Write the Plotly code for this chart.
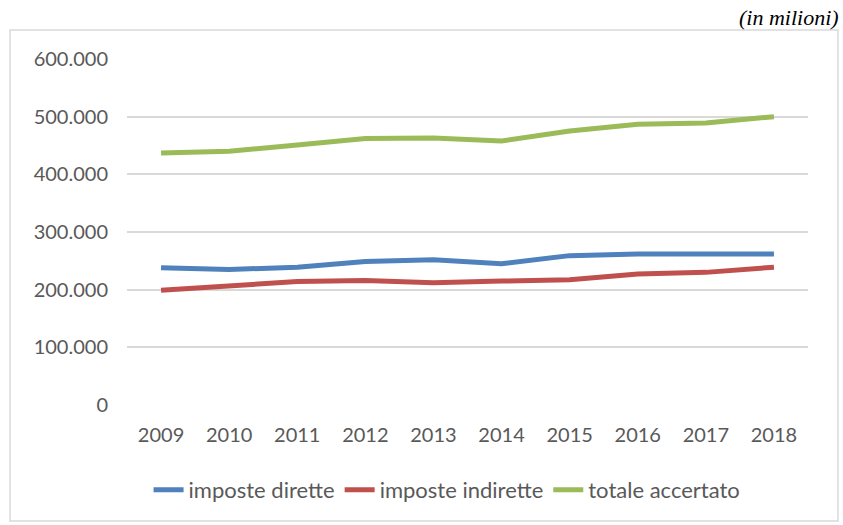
import plotly.graph_objects as go

years = ["2009", "2010", "2011", "2012", "2013", "2014", "2015", "2016", "2017", "2018"]
imposte_dirette = [238000, 235000, 239000, 249000, 252000, 245000, 259000, 262000, 262000, 262000]
imposte_indirette = [199000, 206000, 214000, 216000, 212000, 215000, 217000, 227000, 230000, 239000]
totale_accertato = [437000, 440000, 451000, 462000, 463000, 458000, 475000, 487000, 489000, 500000]
y_ticks = [0, 100000, 200000, 300000, 400000, 500000, 600000]

series = [
    ("imposte dirette", imposte_dirette, "#4F81BD"),
    ("imposte indirette", imposte_indirette, "#C0504D"),
    ("totale accertato", totale_accertato, "#9BBB59"),
]

fig = go.Figure()
for name, vals, color in series:
    fig.add_trace(go.Scatter(x=years, y=vals, name=name, mode="lines",
                             line=dict(color=color, width=5)))

W, H = 843, 525
L, R, T, B = 127, 35, 59, 120
pw, ph = W - L - R, H - T - B

def px_x(p):
    return (p - L) / pw

def px_y(p):
    return (H - B - p) / ph

fig.update_layout(
    width=W, height=H,
    margin=dict(l=L, r=R, t=T, b=B),
    paper_bgcolor="white", plot_bgcolor="white",
    separators=",.",
    font=dict(family="Lato", size=20, color="#595959"),
    showlegend=True,
    legend=dict(orientation="h", x=0.47, xanchor="center", y=px_y(490), yanchor="middle",
                font=dict(size=22, color="#595959"), tracegroupgap=0),
    xaxis=dict(type="category", showgrid=False, zeroline=False, showline=False,
               ticks="", tickfont=dict(size=20, color="#595959"), range=[-0.5, 9.5],
               ticklabelstandoff=16),
    yaxis=dict(range=[0, 600000], tickvals=y_ticks, tickformat=",d",
               showgrid=True, gridcolor="#D9D9D9", gridwidth=1.5, zeroline=False,
               showline=False, ticks="", ticklabelstandoff=18,
               tickfont=dict(size=20, color="#595959")),
    shapes=[dict(type="rect", xref="paper", yref="paper",
                 x0=px_x(10), x1=px_x(838), y0=px_y(521), y1=px_y(30),
                 line=dict(color="#D9D9D9", width=1.5), fillcolor="rgba(0,0,0,0)", layer="below")],
    annotations=[dict(text="<i>(in milioni)</i>", xref="paper", yref="paper",
                      x=px_x(841), y=px_y(17), xanchor="right", yanchor="middle",
                      showarrow=False,
                      font=dict(family="Liberation Serif", size=22, color="black"),
                      )],
)

fig.write_html("out.html", config={"displayModeBar": False},
               post_script="document.body.style.margin='0';document.body.style.padding='0';")
